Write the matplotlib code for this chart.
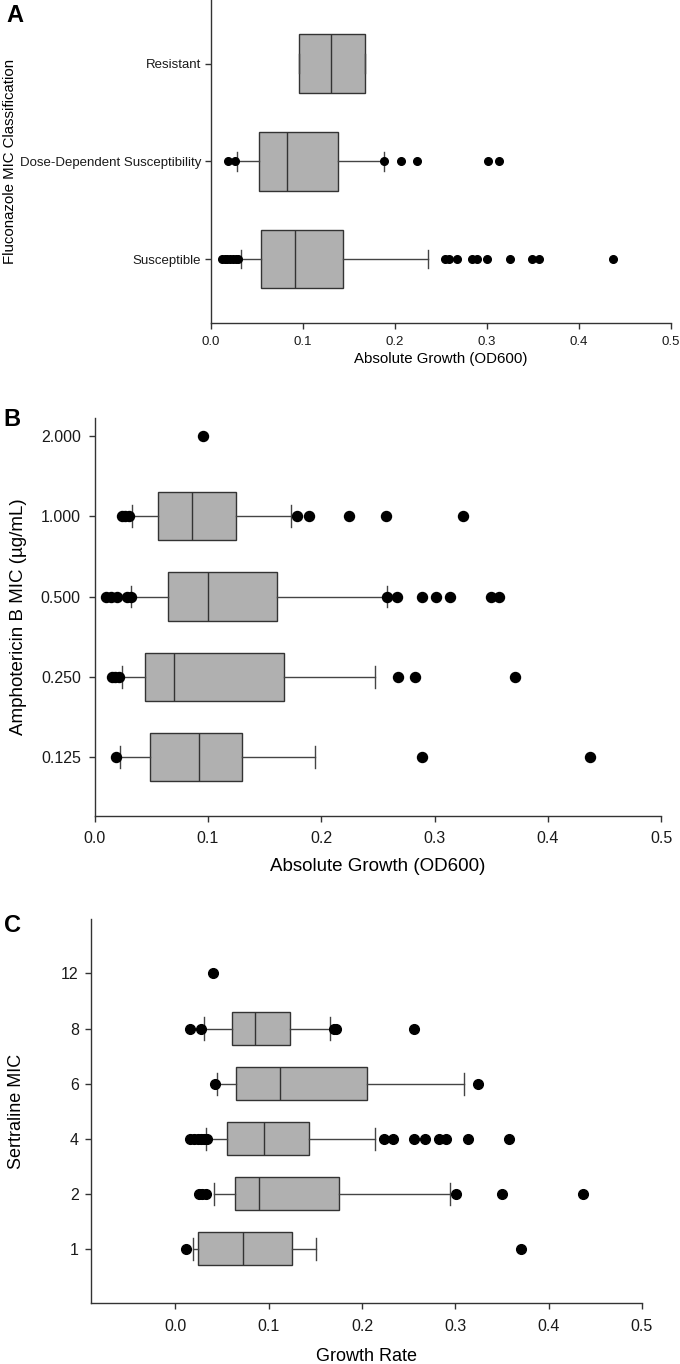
import matplotlib
matplotlib.use("Agg")
import matplotlib.pyplot as plt
import numpy as np

plt.rcParams['font.family'] = ['Liberation Sans', 'DejaVu Sans']

# Panel A: fluconazole classification
a_labels = ['Susceptible', 'Dose-Dependent Susceptibility', 'Resistant']
a_q1 = [0.0547, 0.0529, 0.0960]
a_med = [0.0913, 0.0826, 0.1310]
a_q3 = [0.1438, 0.1387, 0.1680]
a_lo = [0.0326, 0.0283, 0.0960]
a_hi = [0.2359, 0.1887, 0.1680]
a_fliers = [
    [0.012, 0.015, 0.018, 0.021, 0.024, 0.027, 0.030,
     0.2550, 0.2585, 0.2674, 0.2837, 0.2891, 0.3007, 0.3253, 0.3496, 0.3572, 0.4370],
    [0.0185, 0.0264, 0.1887, 0.2065, 0.2239, 0.3018, 0.3137],
    [],
]

# Panel B: amphotericin B MIC
b_labels = ['0.125', '0.250', '0.500', '1.000', '2.000']
b_q1 = [0.0488, 0.0447, 0.0644, 0.0562, None]
b_med = [0.0923, 0.0703, 0.0997, 0.0862, None]
b_q3 = [0.1303, 0.1668, 0.1606, 0.1247, None]
b_lo = [0.0226, 0.0238, 0.0320, 0.0332, None]
b_hi = [0.1947, 0.2471, 0.2583, 0.1733, None]
b_fliers = [
    [0.0185, 0.2889, 0.4372],
    [0.015, 0.018, 0.021, 0.2680, 0.2827, 0.3709],
    [0.0097, 0.0141, 0.0200, 0.0288, 0.0318, 0.2583, 0.2671, 0.2889, 0.3015, 0.3136, 0.3495, 0.3571],
    [0.024, 0.027, 0.030, 0.1783, 0.1889, 0.2242, 0.2571, 0.3251],
    [0.0959],
]

# Panel C: sertraline MIC
c_labels = ['1', '2', '4', '6', '8', '12']
c_q1 = [0.0246, 0.0635, 0.0553, 0.0653, 0.0607, None]
c_med = [0.0725, 0.0896, 0.0946, 0.1117, 0.0857, None]
c_q3 = [0.1246, 0.1759, 0.1431, 0.2059, 0.1231, None]
c_lo = [0.0186, 0.0414, 0.0325, 0.0446, 0.0303, None]
c_hi = [0.1503, 0.2941, 0.2138, 0.3091, 0.1660, None]
c_fliers = [
    [0.0114, 0.3708],
    [0.025, 0.029, 0.033, 0.3009, 0.3497, 0.4372],
    [0.016, 0.020, 0.024, 0.028, 0.031, 0.034,
     0.2238, 0.2331, 0.2562, 0.2680, 0.2823, 0.2898, 0.3141, 0.3572],
    [0.0428, 0.3248],
    [0.0153, 0.0278, 0.1695, 0.1724, 0.2559],
    [0.0403],
]

x_ticks = [0.0, 0.1, 0.2, 0.3, 0.4, 0.5]

edge = '#333333'


def draw_panel(ax, labels, q1, med, q3, lo, hi, fliers, ms, capw, tick_fs, pad_x, pad_y):
    stats, pos = [], []
    for i in range(len(labels)):
        if q1[i] is None:
            continue
        stats.append(dict(q1=q1[i], med=med[i], q3=q3[i],
                          whislo=lo[i], whishi=hi[i], fliers=[]))
        pos.append(i)
    ax.bxp(stats, positions=pos, orientation='horizontal', widths=0.6,
           patch_artist=True, showfliers=False, capwidths=capw,
           boxprops=dict(facecolor='#b0b0b0', edgecolor=edge, linewidth=1.0),
           medianprops=dict(color=edge, linewidth=1.0),
           whiskerprops=dict(color='#444444', linewidth=1.0),
           capprops=dict(color='#444444', linewidth=1.0))
    for i, f in enumerate(fliers):
        if f:
            ax.plot(f, [i] * len(f), 'o', color='black', ms=ms, mec='black', zorder=4)
    ax.set_yticks(range(len(labels)))
    ax.set_yticklabels(labels)
    ax.set_xticks(x_ticks)
    ax.set_xticklabels(['%.1f' % t for t in x_ticks])
    for s in ['top', 'right']:
        ax.spines[s].set_visible(False)
    for s in ['left', 'bottom']:
        ax.spines[s].set_color(edge)
        ax.spines[s].set_linewidth(1.0)
    ax.tick_params(axis='both', direction='out', length=4, width=1.0,
                   color=edge, labelsize=tick_fs, labelcolor='#1a1a1a')
    ax.tick_params(axis='x', pad=pad_x)
    ax.tick_params(axis='y', pad=pad_y)


fig = plt.figure(figsize=(6.8, 13.64), dpi=100)

axA = fig.add_axes([0.3099, 0.7634, 0.6765, 0.2366])
draw_panel(axA, a_labels, a_q1, a_med, a_q3, a_lo, a_hi, a_fliers,
           ms=5.5, capw=0.19, tick_fs=9.5, pad_x=5.5, pad_y=3)
axA.set_xlim(0, 0.5)
axA.set_ylim(-0.65, 2.65)
axA.set_xlabel('Absolute Growth (OD600)', fontsize=10.8)
axA.xaxis.set_label_coords(0.5, -0.1125)
axA.xaxis.label.set_va('center')
axA.set_ylabel('Fluconazole MIC Classification', fontsize=10.8)
axA.yaxis.set_label_coords(-0.437, 0.5)
axA.yaxis.label.set_va('center')

axB = fig.add_axes([0.1393, 0.4018, 0.8328, 0.2916])
draw_panel(axB, b_labels, b_q1, b_med, b_q3, b_lo, b_hi, b_fliers,
           ms=7.2, capw=0.27, tick_fs=11.5, pad_x=6.5, pad_y=6)
axB.set_xlim(0, 0.5)
axB.set_ylim(-0.73, 4.22)
axB.set_xlabel('Absolute Growth (OD600)', fontsize=13.5)
axB.xaxis.set_label_coords(0.5, -0.128)
axB.xaxis.label.set_va('center')
axB.set_ylabel('Amphotericin B MIC (µg/mL)', fontsize=13.5)
axB.yaxis.set_label_coords(-0.1354, 0.5)
axB.yaxis.label.set_va('center')

axC = fig.add_axes([0.1343, 0.0445, 0.8098, 0.2818])
draw_panel(axC, c_labels, c_q1, c_med, c_q3, c_lo, c_hi, c_fliers,
           ms=7, capw=0.4, tick_fs=11.5, pad_x=7, pad_y=5)
axC.set_xlim(-0.09, 0.5)
axC.set_ylim(-0.99, 5.99)
axC.set_xlabel('Growth Rate', fontsize=13)
axC.xaxis.set_label_coords(0.5, -0.139)
axC.xaxis.label.set_va('center')
axC.set_ylabel('Sertraline MIC', fontsize=13)
axC.yaxis.set_label_coords(-0.135, 0.5)
axC.yaxis.label.set_va('center')

for letter, x, y in [('A', 0.022, 0.989), ('B', 0.018, 0.6928), ('C', 0.018, 0.3218)]:
    fig.text(x, y, letter, fontsize=17, fontweight='bold', ha='center', va='center')

fig.savefig('out.png', dpi=100)
